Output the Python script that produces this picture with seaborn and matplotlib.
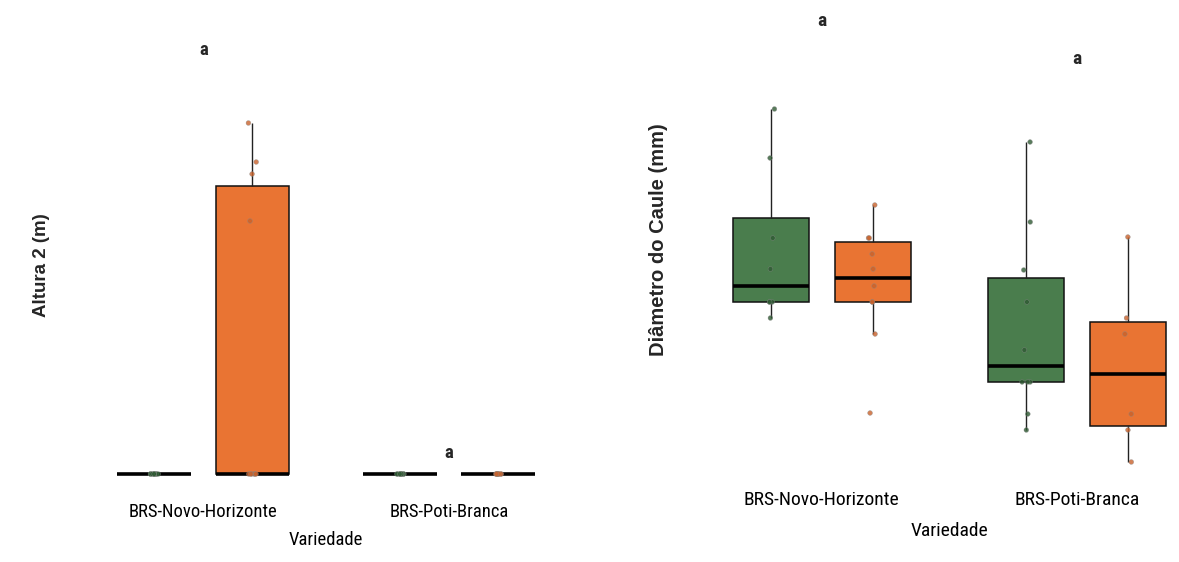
import numpy as np
import pandas as pd
import matplotlib
matplotlib.use("Agg")
import matplotlib.pyplot as plt
from matplotlib import font_manager
import seaborn as sns

# ---- data -------------------------------------------------------------
variedades = ["BRS-Novo-Horizonte", "BRS-Poti-Branca"]
grupos = ["G1", "G2"]

# Altura 2 (m)
altura_nh_g1 = [0, 0, 0, 0, 0, 0, 0, 0, 0, 0]
altura_nh_g2 = [0, 0, 0, 0, 0, 0, 2.53, 3.00, 3.12, 3.51]
altura_pb_g1 = [0, 0, 0, 0, 0, 0, 0, 0, 0, 0]
altura_pb_g2 = [0, 0, 0, 0, 0, 0, 0, 0, 0, 0]

# Diâmetro do Caule (mm)
diam_nh_g1 = [9.10, 9.90, 9.90, 9.90, 11.55, 13.10, 17.10, 19.55]
diam_nh_g2 = [4.35, 8.30, 9.90, 9.90, 10.70, 11.55, 12.30, 13.10, 13.10, 14.75]
diam_pb_g1 = [3.50, 4.30, 5.90, 5.90, 5.90, 7.50, 9.90, 11.50, 13.90, 17.90]
diam_pb_g2 = [1.90, 3.50, 4.30, 8.30, 9.10, 13.15]

letras_altura = ["a", "a"]
letras_diam = ["a", "a"]


def long_table(series, col):
    rows = []
    for (var, grp), vals in series.items():
        for v in vals:
            rows.append({"Variedade": var, "Grupo": grp, col: v})
    return pd.DataFrame(rows)


df_alt = long_table({
    (variedades[0], grupos[0]): altura_nh_g1,
    (variedades[0], grupos[1]): altura_nh_g2,
    (variedades[1], grupos[0]): altura_pb_g1,
    (variedades[1], grupos[1]): altura_pb_g2,
}, "Altura")

df_diam = long_table({
    (variedades[0], grupos[0]): diam_nh_g1,
    (variedades[0], grupos[1]): diam_nh_g2,
    (variedades[1], grupos[0]): diam_pb_g1,
    (variedades[1], grupos[1]): diam_pb_g2,
}, "Diametro")

# ---- style ------------------------------------------------------------
sns.set_style("white")
installed = {f.name for f in font_manager.fontManager.ttflist}
narrow = [f for f in ["Roboto Condensed", "Liberation Sans Narrow"] if f in installed]
if narrow:
    narrow_family = [narrow[0], "DejaVu Sans"]
    scale = 1.0
else:
    narrow_family = ["Liberation Sans", "DejaVu Sans"]
    scale = 0.88
plt.rcParams["font.family"] = narrow_family

box_colors = {"G1": "#4a7d4d", "G2": "#e97433"}
dot_colors = {"G1": "#2f5a33", "G2": "#c8622c"}

W, H = 1179, 562
fig = plt.figure(figsize=(W / 100, H / 100), dpi=100)


def axes_px(left, right, top, bottom):
    return [left / W, 1 - bottom / H, (right - left) / W, (bottom - top) / H]


ax1 = fig.add_axes(axes_px(55.8, 596.7, 30, 494))
ax2 = fig.add_axes(axes_px(668.7, 1230.3, 10, 482))

np.random.seed(7)


def draw_panel(ax, df, col, fs):
    sns.boxplot(data=df, x="Variedade", y=col, hue="Grupo",
                order=variedades, hue_order=grupos, palette=box_colors,
                saturation=1, dodge=True, width=0.8, gap=0.25,
                linecolor="#111111", linewidth=1.1, showfliers=False,
                showcaps=False, medianprops=dict(color="black", linewidth=2.6),
                whiskerprops=dict(color="#222222", linewidth=1.0),
                legend=False, ax=ax)
    sns.stripplot(data=df, x="Variedade", y=col, hue="Grupo",
                  order=variedades, hue_order=grupos, palette=dot_colors,
                  dodge=True, jitter=0.035, size=3.4, alpha=0.8,
                  edgecolor="#888888", linewidth=0.3, legend=False, ax=ax)
    ax.set_xlim(-0.6, 1.6)
    ax.set_yticks([])
    ax.set_ylabel("")
    for s in ax.spines.values():
        s.set_visible(False)
    ax.tick_params(axis="x", length=3, width=0.5, color="#999999",
                   pad=3.4, labelsize=fs, labelcolor="black")
    ax.set_xlabel("Variedade", fontsize=fs, color="black")


draw_panel(ax1, df_alt, "Altura", 13.4 * scale)
ax1.set_ylim(-0.20, 4.44)
ax1.xaxis.set_label_coords(0.5, -0.0797)
ax1.text(0, 4.24, letras_altura[0], ha="center", va="center",
         fontsize=13.5 * scale, fontweight="bold")
ax1.text(1, 0.21, letras_altura[1], ha="center", va="center",
         fontsize=13.5 * scale, fontweight="bold")

draw_panel(ax2, df_diam, "Diametro", 14 * scale)
ax2.set_ylim(0.9, 24.5)
ax2.xaxis.set_label_coords(0.5, -0.0847)
ax2.text(0, 23.95, letras_diam[0], ha="center", va="center",
         fontsize=14 * scale, fontweight="bold")
ax2.text(1, 22.05, letras_diam[1], ha="center", va="center",
         fontsize=14 * scale, fontweight="bold")

# axis titles
fig.text(41 / W, 1 - 265 / H, "Altura 2 (m)", rotation=90, ha="center",
         va="center", fontsize=13.5, fontweight="bold",
         family=["Liberation Sans", "DejaVu Sans"])
fig.text(658 / W, 1 - 240 / H, "Diâmetro do Caule (mm)", rotation=90,
         ha="center", va="center", fontsize=14.5, fontweight="bold",
         family=["Liberation Sans", "DejaVu Sans"])

# title of the panel above, cut by the top edge
fig.text(952 / W, 1 + 5 / H, "Variedade", ha="center", va="center",
         fontsize=14 * scale)

fig.savefig("out.png", dpi=100, facecolor="white")
